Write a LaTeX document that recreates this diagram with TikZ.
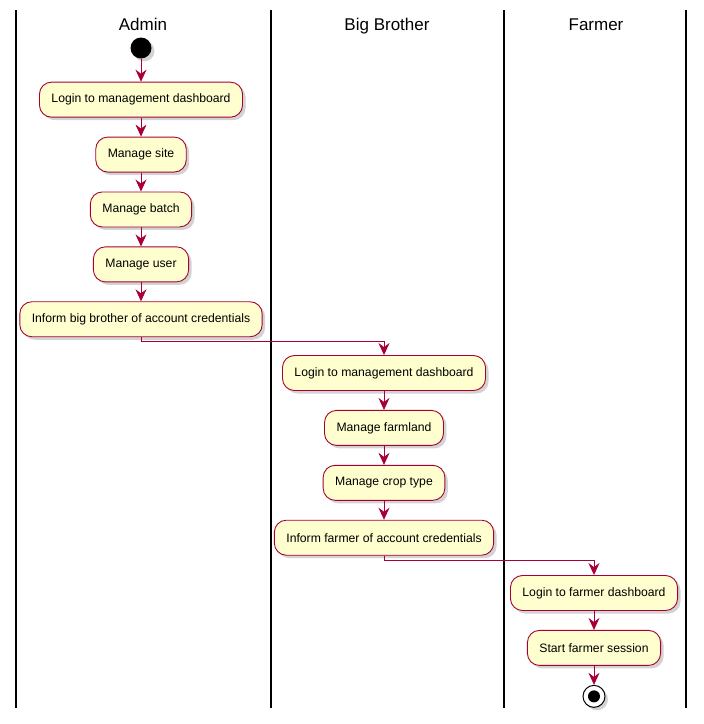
\documentclass[tikz,border=0pt]{standalone}
\usepackage{fontspec}
\setmainfont{Liberation Sans}
\usepackage{xcolor}
\usepackage{tikz}
\definecolor{actfill}{RGB}{254, 254, 206}
\definecolor{actline}{RGB}{168, 0, 54}
\usetikzlibrary{arrows.meta, positioning, shadows}

\begin{document}
\begin{tikzpicture}[x=1pt, y=-1pt,
        lane/.style={line width=1.4pt, black},
        lanetitle/.style={font=\fontsize{17}{20}\selectfont, anchor=base},
        activity/.style={draw=actline, fill=actfill, line width=0.9pt,
              rounded corners=12pt, minimum height=35pt, inner xsep=12pt,
              font=\fontsize{12.2}{15}\selectfont,
              drop shadow={shadow xshift=3pt, shadow yshift=-3pt, opacity=0.35}},
        flow/.style={draw=actline, line width=0.9pt,
              -{Stealth[length=12pt, width=11pt, inset=4pt]}},
        node distance=19pt]
        \useasboundingbox (0,0) rectangle (704,724);

        % swimlanes
        \draw[lane] (16,10) -- (16,708);
        \draw[lane] (271,10) -- (271,708);
        \draw[lane] (504,10) -- (504,708);
        \draw[lane] (686,10) -- (686,708);
        \node[lanetitle] (admin) at (143,30) {Admin};
        \node[lanetitle] (bigbro) at (387,30) {Big Brother};
        \node[lanetitle] (farmer) at (596,30) {Farmer};

        % admin
        \node[circle, fill=black, minimum size=21pt, inner sep=0pt,
              drop shadow={shadow xshift=3pt, shadow yshift=-3pt, opacity=0.35}] (start) at (141,48) {};
        \node[activity, below=23pt of start] (adminlogin) {Login to management dashboard};
        \node[activity, below=of adminlogin] (site) {Manage site};
        \node[activity, below=of site] (batch) {Manage batch};
        \node[activity, below=of batch] (user) {Manage user};
        \node[activity, below=of user] (informbro) {Inform big brother of account credentials};

        % big brother
        \node[activity] (brologin) at (384,373) {Login to management dashboard};
        \node[activity, below=of brologin] (farmland) {Manage farmland};
        \node[activity, below=of farmland] (croptype) {Manage crop type};
        \node[activity, below=of croptype] (informfarmer) {Inform farmer of account credentials};

        % farmer
        \node[activity] (farmerlogin) at (594,593) {Login to farmer dashboard};
        \node[activity, below=of farmerlogin] (session) {Start farmer session};
        \node[circle, draw=black, fill=white, line width=1pt, minimum size=22pt, inner sep=0pt,
              below=19pt of session,
              drop shadow={shadow xshift=3pt, shadow yshift=-3pt, opacity=0.35}] (stop) {};
        \fill[black] (stop.center) circle (6pt);

        \draw[flow] (start) -- (adminlogin);
        \draw[flow] (adminlogin) -- (site);
        \draw[flow] (site) -- (batch);
        \draw[flow] (batch) -- (user);
        \draw[flow] (user) -- (informbro);
        \draw[flow] (informbro.south) -- ++(0,4.5) -| (brologin.north);
        \draw[flow] (brologin) -- (farmland);
        \draw[flow] (farmland) -- (croptype);
        \draw[flow] (croptype) -- (informfarmer);
        \draw[flow] (informfarmer.south) -- ++(0,4.5) -| (farmerlogin.north);
        \draw[flow] (farmerlogin) -- (session);
        \draw[flow] (session) -- (stop);
    \end{tikzpicture}
\end{document}
